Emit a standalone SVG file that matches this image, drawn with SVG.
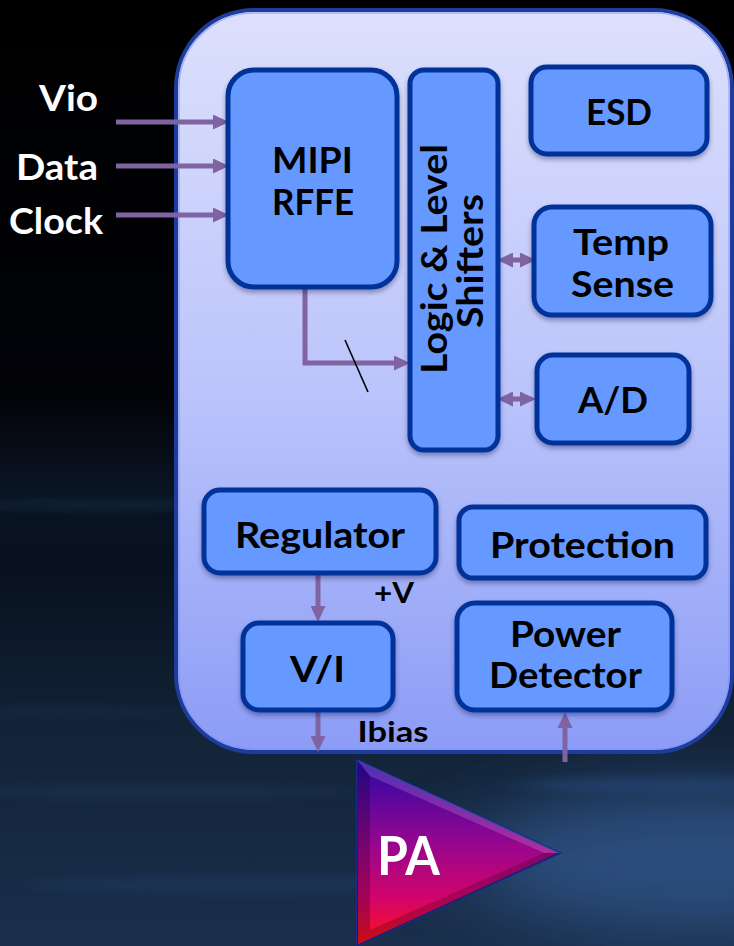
<svg xmlns="http://www.w3.org/2000/svg" width="734" height="946" viewBox="0 0 734 946">
  <defs>
    <linearGradient id="bgGrad" x1="0" y1="0" x2="0" y2="1">
      <stop offset="0" stop-color="#000000"/>
      <stop offset="0.42" stop-color="#020308"/>
      <stop offset="0.52" stop-color="#0a1524"/>
      <stop offset="0.6" stop-color="#08111e"/>
      <stop offset="0.78" stop-color="#132439"/>
      <stop offset="1" stop-color="#1a2f4c"/>
    </linearGradient>
    <linearGradient id="panelGrad" x1="0" y1="0" x2="0" y2="1">
      <stop offset="0" stop-color="#dde0fc"/>
      <stop offset="0.5" stop-color="#bcc5fb"/>
      <stop offset="1" stop-color="#8c9cf6"/>
    </linearGradient>
    <linearGradient id="paGrad" x1="0" y1="0" x2="0" y2="1">
      <stop offset="0" stop-color="#2a08a8"/>
      <stop offset="0.45" stop-color="#96068e"/>
      <stop offset="0.75" stop-color="#d4046a"/>
      <stop offset="1" stop-color="#ff1418"/>
    </linearGradient>
    <filter id="haze" x="-50%" y="-100%" width="200%" height="300%">
      <feGaussianBlur stdDeviation="50 30"/>
    </filter>
    <filter id="streak" x="-30%" y="-200%" width="160%" height="500%">
      <feGaussianBlur stdDeviation="20 4"/>
    </filter>
    <filter id="shadow" x="-10%" y="-10%" width="120%" height="130%">
      <feDropShadow dx="0" dy="3" stdDeviation="2.5" flood-color="#000033" flood-opacity="0.35"/>
    </filter>
    <marker id="head" markerUnits="userSpaceOnUse" markerWidth="16" markerHeight="15" refX="6" refY="7.5" orient="auto-start-reverse">
      <path d="M0,0 L16,7.5 L0,15 Z" fill="#8064a2"/>
    </marker>
    <style>
      .box { fill: #6699ff; stroke: #003399; stroke-width: 5; filter: url(#shadow); }
      .lbl { font-family: Lato, "Open Sans", "Liberation Sans", sans-serif; font-weight: bold; font-size: 37px; fill: #000000; text-anchor: middle; }
      .pin { font-family: Lato, "Open Sans", "Liberation Sans", sans-serif; font-weight: bold; font-size: 37px; fill: #ffffff; text-anchor: middle; }
      .pa { font-family: Lato, "Open Sans", "Liberation Sans", sans-serif; font-weight: bold; font-size: 53px; fill: #ffffff; text-anchor: middle; }
      .small { font-family: Lato, "Open Sans", "Liberation Sans", sans-serif; font-weight: bold; font-size: 29px; fill: #000000; text-anchor: middle; }
      .arrow { fill: none; stroke: #8064a2; stroke-width: 5; marker-end: url(#head); }
      .both { fill: none; stroke: #8064a2; stroke-width: 5; marker-start: url(#head); marker-end: url(#head); }
    </style>
  </defs>

  <!-- backdrop: black sky fading into streaky blue -->
  <rect x="0" y="0" width="734" height="946" fill="url(#bgGrad)"/>
  <g>
    <ellipse cx="700" cy="860" rx="240" ry="70" fill="#33598f" opacity="0.75" filter="url(#haze)"/>
    <ellipse cx="110" cy="505" rx="170" ry="5" fill="#15263d" opacity="0.7" filter="url(#streak)"/>
    <ellipse cx="60" cy="712" rx="170" ry="6" fill="#162942" opacity="0.6" filter="url(#streak)"/>
    <ellipse cx="160" cy="792" rx="200" ry="7" fill="#1b3150" opacity="0.6" filter="url(#streak)"/>
    <ellipse cx="250" cy="885" rx="220" ry="9" fill="#1e385c" opacity="0.6" filter="url(#streak)"/>
    <ellipse cx="660" cy="785" rx="140" ry="8" fill="#28477a" opacity="0.5" filter="url(#streak)"/>
  </g>

  <!-- module outline -->
  <g id="module">
    <rect x="176" y="10" width="556" height="742" rx="78" fill="url(#panelGrad)" stroke="#1e3c9c" stroke-width="4"/>
    <rect x="179" y="13" width="550" height="736" rx="75" fill="none" stroke="#7e92f0" stroke-width="1.5" opacity="0.6"/>
  </g>

  <!-- connectors -->
  <g id="connectors">
    <line class="arrow" x1="116" y1="122" x2="219" y2="122"/>
    <line class="arrow" x1="116" y1="166" x2="219" y2="166"/>
    <line class="arrow" x1="116" y1="215" x2="219" y2="215"/>
    <polyline class="arrow" points="305,289 305,363 400,363"/>
    <line x1="345" y1="340" x2="368" y2="392" stroke="#000000" stroke-width="1.6"/>
    <line class="both" x1="507" y1="260" x2="526" y2="260"/>
    <line class="both" x1="507" y1="399" x2="526" y2="399"/>
    <line class="arrow" x1="318" y1="575" x2="318" y2="612"/>
    <line class="arrow" x1="318" y1="712" x2="318" y2="742"/>
    <line class="arrow" x1="565" y1="762" x2="565" y2="722"/>
  </g>

  <!-- signal names -->
  <g id="pins">
    <text class="pin" x="68.5" y="111" textLength="59" lengthAdjust="spacingAndGlyphs">Vio</text>
    <text class="pin" x="57" y="180" textLength="82" lengthAdjust="spacingAndGlyphs">Data</text>
    <text class="pin" x="56" y="234" textLength="94" lengthAdjust="spacingAndGlyphs">Clock</text>
  </g>

  <g id="mipi-rffe">
    <rect class="box" x="228" y="70" width="169" height="217" rx="26"/>
    <text class="lbl" x="312.5" y="173" textLength="81" lengthAdjust="spacingAndGlyphs">MIPI</text>
    <text class="lbl" x="313" y="215" textLength="82" lengthAdjust="spacingAndGlyphs">RFFE</text>
  </g>

  <g id="logic-level-shifters">
    <rect class="box" x="410" y="70" width="88" height="380" rx="14"/>
    <text class="lbl" transform="translate(447,259) rotate(-90)" x="0" y="0" textLength="230" lengthAdjust="spacingAndGlyphs">Logic &amp; Level</text>
    <text class="lbl" transform="translate(483,261) rotate(-90)" x="0" y="0" textLength="134" lengthAdjust="spacingAndGlyphs">Shifters</text>
  </g>

  <g id="esd">
    <rect class="box" x="531" y="67" width="176" height="87" rx="16"/>
    <text class="lbl" x="619" y="125" textLength="66" lengthAdjust="spacingAndGlyphs">ESD</text>
  </g>

  <g id="temp-sense">
    <rect class="box" x="534" y="207" width="177" height="108" rx="18"/>
    <text class="lbl" x="621" y="255" textLength="96" lengthAdjust="spacingAndGlyphs">Temp</text>
    <text class="lbl" x="622.5" y="297" textLength="103" lengthAdjust="spacingAndGlyphs">Sense</text>
  </g>

  <g id="a-d">
    <rect class="box" x="537" y="355" width="152" height="88" rx="16"/>
    <text class="lbl" x="613" y="413" textLength="70" lengthAdjust="spacingAndGlyphs">A/D</text>
  </g>

  <g id="regulator">
    <rect class="box" x="204" y="490" width="232" height="83" rx="16"/>
    <text class="lbl" x="320" y="548" textLength="170" lengthAdjust="spacingAndGlyphs">Regulator</text>
  </g>

  <g id="protection">
    <rect class="box" x="459" y="507" width="247" height="71" rx="14"/>
    <text class="lbl" x="582.5" y="558" textLength="185" lengthAdjust="spacingAndGlyphs">Protection</text>
  </g>

  <g id="v-i">
    <rect class="box" x="243" y="623" width="150" height="87" rx="16"/>
    <text class="lbl" x="317.5" y="682" textLength="55" lengthAdjust="spacingAndGlyphs">V/I</text>
  </g>

  <g id="power-detector">
    <rect class="box" x="457" y="603" width="215" height="107" rx="18"/>
    <text class="lbl" x="565.5" y="647" textLength="111" lengthAdjust="spacingAndGlyphs">Power</text>
    <text class="lbl" x="565.5" y="688" textLength="153" lengthAdjust="spacingAndGlyphs">Detector</text>
  </g>

  <!-- wire labels -->
  <g id="wire-labels">
    <text class="small" x="394" y="603" textLength="40" lengthAdjust="spacingAndGlyphs">+V</text>
    <text class="small" x="393" y="742" textLength="71" lengthAdjust="spacingAndGlyphs">Ibias</text>
  </g>

  <!-- power amplifier -->
  <g id="pa">
    <polygon points="357,760 560,853 357,946" fill="url(#paGrad)" stroke="#1a2a8a" stroke-width="2"/>
    <polygon points="357,760 560,853 544,853 370,776" fill="#ffffff" opacity="0.16"/>
    <polygon points="357,760 370,776 370,930 357,946" fill="#000000" opacity="0.22"/>
    <polygon points="357,946 370,930 544,853 560,853" fill="#000000" opacity="0.2"/>
    <text class="pa" x="408.5" y="875" textLength="63" lengthAdjust="spacingAndGlyphs">PA</text>
  </g>
</svg>
